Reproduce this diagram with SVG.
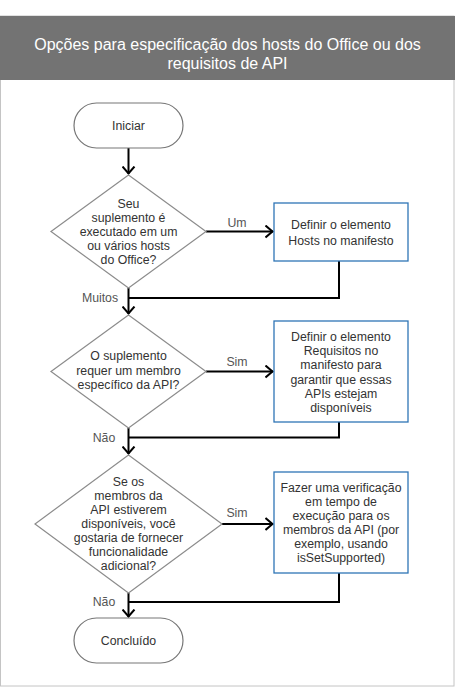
<svg xmlns="http://www.w3.org/2000/svg" width="455" height="700" viewBox="0 0 455 700">
<defs>
<marker id="arr" viewBox="0 0 10 14" refX="8.5" refY="7" markerWidth="10" markerHeight="14" markerUnits="userSpaceOnUse" orient="auto">
<path d="M1,1 L8,7 L1,13" fill="none" stroke="#000" stroke-width="2"/>
</marker>
</defs>
<style>
text{font-family:"Liberation Sans",Arial,sans-serif;}
.h{font-size:16px;fill:#fff;text-anchor:middle;}
.t{font-size:12.3px;fill:#333;text-anchor:middle;}
.lbl{font-size:12.3px;fill:#555;text-anchor:middle;}
.term{fill:#fff;stroke:#767676;stroke-width:1.2;}
.dia{fill:#fff;stroke:#8c8c8c;stroke-width:1.2;}
.box{fill:#fff;stroke:#2e75b6;stroke-width:1.3;}
.c{fill:none;stroke:#000;stroke-width:2;}
</style>
<rect x="0.5" y="16" width="453.5" height="670" fill="#fff" stroke="#c4c4c4" stroke-width="1"/>
<g id="header">
<rect x="0" y="16" width="455" height="64" fill="#737373"/>
<text class="h" x="227.5" y="50">Opções para especificação dos hosts do Office ou dos</text>
<text class="h" x="227.5" y="68.5">requisitos de API</text>
</g>
<g id="connectors">
<path class="c" d="M128.5,148 V174" marker-end="url(#arr)"/>
<path class="c" d="M206,231.5 H273" marker-end="url(#arr)"/>
<path class="c" d="M128.5,288 V314" marker-end="url(#arr)"/>
<path class="c" d="M339,261 V298 H128.5"/>
<path class="c" d="M206,371.5 H273" marker-end="url(#arr)"/>
<path class="c" d="M128.5,428 V454" marker-end="url(#arr)"/>
<path class="c" d="M339,422 V437.5 H128.5"/>
<path class="c" d="M222,524 H273" marker-end="url(#arr)"/>
<path class="c" d="M128.5,593 V617" marker-end="url(#arr)"/>
<path class="c" d="M339,573 V602 H128.5"/>
<text class="lbl" x="237" y="227">Um</text>
<text class="lbl" x="100" y="301.5">Muitos</text>
<text class="lbl" x="237" y="366">Sim</text>
<text class="lbl" x="104" y="441.5">Não</text>
<text class="lbl" x="237" y="517">Sim</text>
<text class="lbl" x="104" y="605.5">Não</text>
</g>
<g id="start">
<rect class="term" x="74" y="103" width="109" height="45" rx="22.5"/>
<text class="t" x="128.5" y="130">Iniciar</text>
</g>
<g id="q1">
<polygon class="dia" points="128.5,175 206,231.5 128.5,288 51,231.5"/>
<text class="t" x="128.5" y="207.5">Seu</text>
<text class="t" x="128.5" y="221.5">suplemento é</text>
<text class="t" x="128.5" y="235.5">executado em um</text>
<text class="t" x="128.5" y="249.5">ou vários hosts</text>
<text class="t" x="128.5" y="263.5">do Office?</text>
</g>
<g id="b1">
<rect class="box" x="274" y="203" width="134" height="58"/>
<text class="t" x="341" y="228.5">Definir o elemento</text>
<text class="t" x="341" y="244.5">Hosts no manifesto</text>
</g>
<g id="q2">
<polygon class="dia" points="128.5,315 206,371.5 128.5,428 51,371.5"/>
<text class="t" x="128.5" y="360">O suplemento</text>
<text class="t" x="128.5" y="374.5">requer um membro</text>
<text class="t" x="128.5" y="388.5">específico da API?</text>
</g>
<g id="b2">
<rect class="box" x="274" y="321" width="134" height="101"/>
<text class="t" x="341" y="340.5">Definir o elemento</text>
<text class="t" x="341" y="355">Requisitos no</text>
<text class="t" x="341" y="369">manifesto para</text>
<text class="t" x="341" y="383.5">garantir que essas</text>
<text class="t" x="341" y="397.5">APIs estejam</text>
<text class="t" x="341" y="411.5">disponíveis</text>
</g>
<g id="q3">
<polygon class="dia" points="128.5,455 222,524 128.5,593 35,524"/>
<text class="t" x="128.5" y="486">Se os</text>
<text class="t" x="128.5" y="500">membros da</text>
<text class="t" x="128.5" y="514">API estiverem</text>
<text class="t" x="128.5" y="528">disponíveis, você</text>
<text class="t" x="128.5" y="542">gostaria de fornecer</text>
<text class="t" x="128.5" y="556">funcionalidade</text>
<text class="t" x="128.5" y="570">adicional?</text>
</g>
<g id="b3">
<rect class="box" x="274" y="472" width="134" height="101"/>
<text class="t" x="341" y="492">Fazer uma verificação</text>
<text class="t" x="341" y="506">em tempo de</text>
<text class="t" x="341" y="520">execução para os</text>
<text class="t" x="341" y="534">membros da API (por</text>
<text class="t" x="341" y="548">exemplo, usando</text>
<text class="t" x="341" y="562">isSetSupported)</text>
</g>
<g id="end">
<rect class="term" x="74" y="618" width="109" height="45" rx="22.5"/>
<text class="t" x="128.5" y="644.5">Concluído</text>
</g>
</svg>
